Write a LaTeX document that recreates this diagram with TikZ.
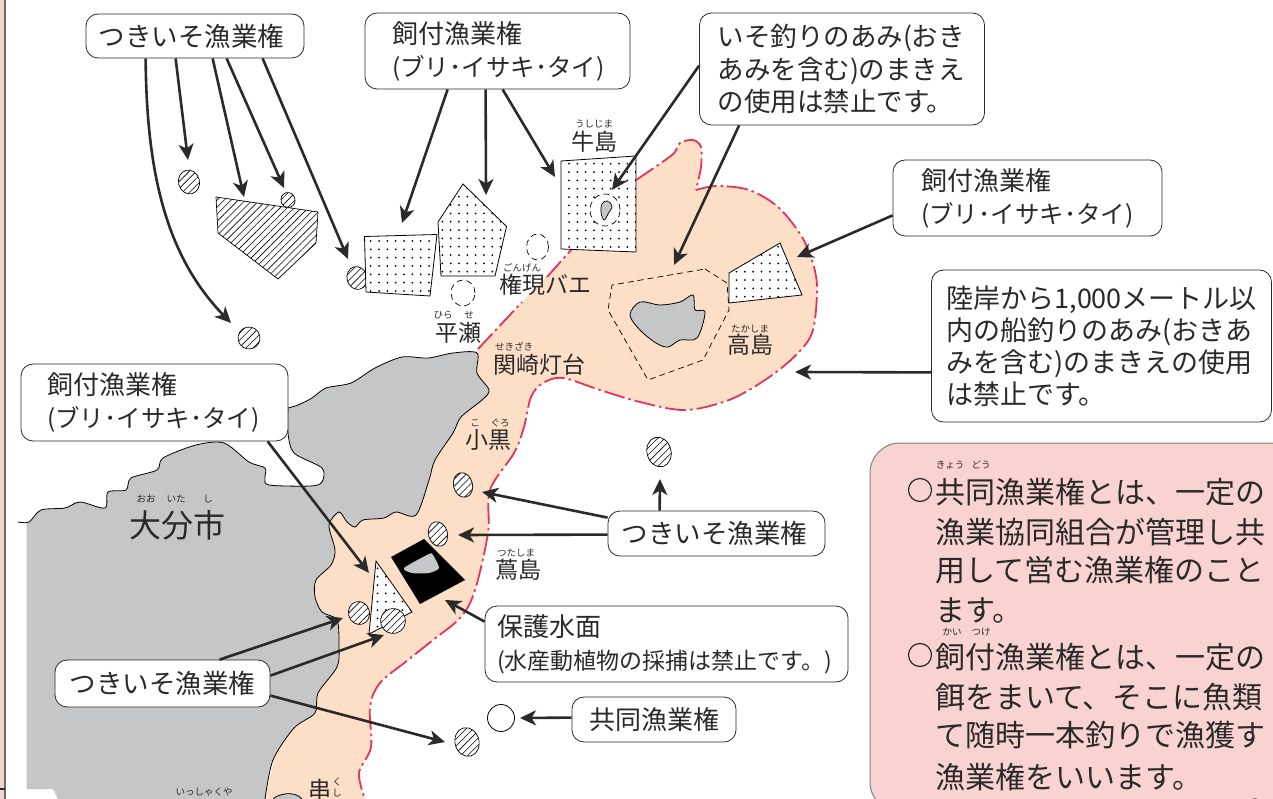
\documentclass[tikz,border=0pt]{standalone}
\usepackage{fontspec}
\setmainfont{Noto Sans CJK JP}
\usetikzlibrary{arrows.meta,calc,patterns.meta,shapes.geometric}
\definecolor{ink}{HTML}{2A2A2A}
\definecolor{seacol}{HTML}{FDDFC8}
\definecolor{landcol}{HTML}{C4C6C8}
\definecolor{redline}{HTML}{E5335A}
\definecolor{pinkbox}{HTML}{F9D3D1}
\definecolor{stripcol}{HTML}{F6D2CF}
\newcommand{\fs}[2]{\fontsize{#1}{#2}\selectfont}
\tikzset{
  conn/.style={draw=ink,line width=2.6pt,-{Stealth[length=16pt,width=15pt,inset=4.5pt]}},
  rbox/.style n args={3}{draw=ink,line width=.8pt,fill=white,rounded corners=12pt,text=ink,
    minimum height=#2pt,text width=#1pt-2*#3pt,inner xsep=#3pt,inner ysep=0pt},
  lab/.style={text=ink,inner sep=0pt,font=\fs{23}{25}},
  rub/.style={text=ink,inner sep=0pt,font=\fs{9.5}{11}},
  pline/.style={text=ink,inner sep=0pt,anchor=west,font=\fs{30}{32}},
  hatchfill/.style={draw=black,line width=.7pt,preaction={fill=white},pattern={Lines[angle=45,distance=5pt,line width=.6pt]}},
  hell/.style={shape=ellipse,inner sep=0pt,hatchfill,rotate=15},
  dashell/.style={shape=ellipse,inner sep=0pt,draw=black,line width=.7pt,dash pattern=on 6pt off 4pt},
}
% white polygon #1 with a grid of dots starting at (#2,#4), up to (#3,#5)
\newcommand{\dotarea}[5]{%
  \fill[white] #1;
  \begin{scope}
    \clip #1;
    \pgfmathsetmacro{\xnext}{#2+8.33}
    \pgfmathsetmacro{\ynext}{#4+8.33}
    \foreach \xx in {#2,\xnext,...,#3}
      \foreach \yy in {#4,\ynext,...,#5}
        \fill[black] (\xx,\yy) circle (1);
  \end{scope}
  \draw[black,line width=.8pt] #1;
}
\def\eastcoast{plot[smooth,tension=.5] coordinates {(288,408) (298,405) (312,398) (326,388) (351,383) (375,368) (402,357) (428,358) (453,353) (477,353) (477,373) (489,390) (482,400) (461,417) (453,433) (435,460) (429,480) (416,515) (396,512) (384,518) (363,520) (355,527) (347,522) (339,512) (329,525) (335,550) (331,565) (316,580) (315,597) (322,612) (337,620) (339,647) (337,667) (318,693) (315,713) (294,728) (273,760) (265,799)}}
\def\northcoast{plot[smooth,tension=.5] coordinates {(18,522) (29,522) (41,510) (65,508) (80,502) (105,508) (108,492) (126,490) (131,478) (157,470) (163,458) (196,445) (224,443) (249,462) (265,468) (265,478) (269,485) (310,486) (322,482) (322,468) (294,453) (288,433) (288,408)}}
\def\redcoastA{plot[smooth,tension=.5] coordinates {(478,349) (522,302)}}
\def\redcoastB{plot[smooth,tension=.5] coordinates {(547,277) (571,250)}}
\def\redcoastC{plot[smooth,tension=.5] coordinates {(636,180) (672,155) (680,143) (693,140) (701,147) (701,167) (696,190)}}
\def\redcoastD{plot[smooth,tension=.55] coordinates {(696,190) (717,186) (749,190) (778,207) (802,237) (814,267) (817,293) (812,333) (794,357) (765,380) (729,400) (685,410) (640,402) (600,390) (563,378) (543,383) (531,397) (524,427) (514,453) (490,490) (488,533) (475,590) (461,617) (433,640) (408,660) (380,683) (370,707) (371,747) (359,773) (365,799)}}
\begin{document}
\begin{tikzpicture}[x=1pt,y=-1pt]
\useasboundingbox (0,0) rectangle (1273,799);
% page strip
\fill[stripcol] (0,0) rectangle (4,799);
\fill[gray!85!black] (4,0) rectangle (5.5,799);
\fill[ink] (0,787.5) rectangle (5,789.5);
% sea area
\edef\seacmd{\noexpand\fill[seacol] (478,349) -- (571,250) -- (636,180) -- \redcoastC -- \redcoastD -- (265,799) -- (300,650) -- (320,560) -- (325,505) -- cycle;}
\seacmd
% land
\edef\landcmd{\noexpand\fill[landcol] (26.5,522) -- \northcoast -- \eastcoast -- (58,799) -- (53,789) -- (26.5,789) -- cycle;}
\landcmd
\draw[black,line width=.8pt] \northcoast;
\draw[black,line width=.8pt] \eastcoast;
\filldraw[fill=landcol,draw=black,line width=.8pt] (273,799) .. controls (278,794) and (294,790) .. (302,799);
% boundary
\tikzset{redb/.style={draw=redline,line width=1.8pt,dash pattern=on 21pt off 4pt on 2.5pt off 4pt}}
\draw[redb] \redcoastA;
\draw[redb] \redcoastB;
\draw[redb] \redcoastC;
\draw[redb] \redcoastD;
% islands and areas
\node[hell,minimum width=21pt,minimum height=24pt] (e1) at (189,182) {};
\node[hell,minimum width=22pt,minimum height=22pt] (e3) at (249,338) {};
\node[hell,minimum width=20pt,minimum height=23pt] (e4) at (357,278) {};
\draw[hatchfill] (216,197) -- (318,212) -- (316,243) -- (278,279) -- (218,233) -- cycle;
\node[hell,minimum width=14pt,minimum height=15pt] (e2) at (288,200) {};
\dotarea{(364.5,236.5) -- (437,234.5) -- (430,296) -- (366,292) -- cycle}{370.7}{436}{241}{296}
\dotarea{(463,184) -- (506.5,226.5) -- (495,276) -- (441,276) -- (438,222) -- cycle}{442.3}{506}{188.4}{276}
\dotarea{(561,161) -- (636,156) -- (636,252) -- (561,249) -- cycle}{569}{636}{163.7}{252}
\node[dashell,fill=white,minimum width=30pt,minimum height=32pt] (d0) at (605,210) {};
\filldraw[fill=landcol,draw=black,line width=.7pt] plot[smooth cycle,tension=.7] coordinates {(607,201) (612,206) (608,214) (604,220) (601,212) (602,204)};
\node[dashell,minimum width=22pt,minimum height=26pt] (d1) at (537.5,247) {};
\node[dashell,minimum width=24pt,minimum height=26pt] (d2) at (463,293) {};
\draw[black,line width=.7pt,dash pattern=on 6pt off 4pt] (705,269) -- (727,283) -- (729,310) -- (703,360) -- (648,380) -- (608,310) -- (612,285) -- cycle;
\dotarea{(780,243) -- (802,295) -- (729,303) -- (729,273) -- cycle}{736.5}{802}{246.7}{303}
\filldraw[fill=landcol,draw=black,line width=.8pt] plot[smooth cycle,tension=.55] coordinates {(630,315) (640,302) (660,305) (680,302) (693,295) (695,310) (705,312) (697,338) (680,340) (668,347) (656,343) (640,330)};
\fill[black] (424,539) -- (465,580) -- (420,604) -- (391,557) -- cycle;
\fill[landcol] plot[smooth cycle,tension=.4] coordinates {(404,568) (429,554) (433,555) (439,568) (429,573) (412,573)};
\dotarea{(376,561) -- (412,612) -- (369,634) -- cycle}{377.5}{412}{568.4}{634}
\node[hell,minimum width=21pt,minimum height=23pt] (e5) at (359,613) {};
\node[hell,minimum width=25pt,minimum height=25pt] (e6) at (393,621) {};
\node[hell,minimum width=19pt,minimum height=25pt] (e7) at (463,485) {};
\node[hell,minimum width=19pt,minimum height=25pt] (e8) at (438,534) {};
\node[hell,minimum width=24pt,minimum height=29pt] (e9) at (467,742) {};
\node[hell,minimum width=24pt,minimum height=30pt] (e10) at (659,452) {};
\node[shape=ellipse,draw=black,line width=.8pt,fill=white,inner sep=0pt,minimum width=27pt,minimum height=27pt] (e11) at (501,718) {};
% labels
\node[lab] (n1) at (594,142) {牛島};
\node[rub] (n1r) at (594,124) {うしじま};
\node[lab] (n2) at (545,285) {権現バエ};
\node[rub] (n2r) at (522,268) {ごんげん};
\node[lab] (n3) at (458,333) {平瀬};
\node[rub] (n3a) at (443,315) {ひら};
\node[rub] (n3b) at (469,315) {せ};
\node[lab] (n4) at (539,365) {関崎灯台};
\node[rub] (n4r) at (514,347) {せきざき};
\node[lab] (n5) at (750,345) {高島};
\node[rub] (n5r) at (750,329) {たかしま};
\node[lab] (n6) at (488,440) {小黒};
\node[rub] (n6a) at (475,423) {こ};
\node[rub] (n6b) at (500,423) {ぐろ};
\node[lab] (n7) at (518,570) {蔦島};
\node[rub] (n7r) at (516,553) {つたしま};
\node[lab,font=\fs{32}{34}] (n8) at (177,525) {大分市};
\node[rub] (n8a) at (146,499) {おお};
\node[rub] (n8b) at (176,499) {いた};
\node[rub] (n8c) at (208,499) {し};
\node[lab] (n9) at (320,790) {串};
\node[rub] (n9a) at (337,782) {く};
\node[rub] (n9b) at (337,793.5) {し};
\node[rub] (n10) at (204,792) {いっしゃくや};
% boxes
\node[rbox={218}{44}{0},align=center,font=\fs{26.5}{28}] (t1) at (195,36) {\hspace*{-7pt}つきいそ漁業権};
\node[rbox={265}{76}{27},align=left,font=\fs{26}{33}] (k1) at (497.5,51) {飼付漁業権\\{\fs{24.5}{33}(ブリ･イサキ･タイ)}};
\node[rbox={285}{112}{18},align=left,font=\fs{26.5}{32.5}] (iso) at (842,69) {いそ釣りのあみ(おき\\あみを含む)のまきえ\\の使用は禁止です。};
\node[rbox={269}{76}{28},align=left,font=\fs{26}{33}] (k2) at (1027.5,198) {飼付漁業権\\{\fs{24.5}{33}(ブリ･イサキ･タイ)}};
\node[rbox={340}{152}{15},align=left,font=\fs{27}{32}] (riku) at (1101.5,346) {陸岸から1,000メートル以\\内の船釣りのあみ(おきあ\\みを含む)のまきえの使用\\は禁止です。};
\node[rbox={267}{77}{26},align=left,font=\fs{26}{33}] (k3) at (154.5,402.5) {飼付漁業権\\{\fs{24.5}{33}(ブリ･イサキ･タイ)}};
\node[rbox={217}{45}{0},align=center,font=\fs{26.5}{28}] (t2) at (716.5,533.5) {\hspace*{-4pt}つきいそ漁業権};
\node[rbox={363}{76}{12},align=left,font=\fs{26}{33}] (hogo) at (666.5,644) {保護水面\\{\fs{23}{33}(水産動植物の採捕は禁止です。)}};
\node[rbox={164}{45}{0},align=center,font=\fs{26}{28}] (kyo) at (654,719.5) {共同漁業権};
\node[rbox={215}{47}{0},align=center,font=\fs{26.5}{28}] (t3) at (162.5,683.5) {つきいそ漁業権};
% free ends
\coordinate (a1) at (231,323);
\coordinate (a2) at (188,160);
\coordinate (a3) at (244,197);
\coordinate (a4) at (284,188);
\coordinate (a5) at (348,259);
\coordinate (b1) at (402,223);
\coordinate (b2) at (486,195);
\coordinate (b3) at (555,177);
\coordinate (c1) at (612,190);
\coordinate (c2) at (674,265);
\coordinate (c3) at (797,257);
\coordinate (c4) at (795,372);
\coordinate (c5) at (369,573);
\coordinate (f1) at (482,492);
\coordinate (f2) at (458,535);
\coordinate (f3) at (660,479);
\coordinate (f4) at (445,600);
\coordinate (f5) at (520,718);
\coordinate (f6) at (343,618);
\coordinate (f7) at (384,635);
\coordinate (f8) at (445,742);
% connectors
\draw[conn] ($(t1.south west)+(60,0)$) .. controls +(1,112) and (165,255) .. (a1);
\draw[conn] ($(t1.south west)+(90,0)$) -- (a2);
\draw[conn] ($(t1.south west)+(127,0)$) -- (a3);
\draw[conn] ($(t1.south west)+(141,0)$) -- (a4);
\draw[conn] ($(t1.south west)+(177,0)$) -- (a5);
\draw[conn] ($(k1.south west)+(83,0)$) -- (b1);
\draw[conn] ($(k1.south west)+(121,0)$) -- (b2);
\draw[conn] ($(k1.south west)+(138,0)$) -- (b3);
\draw[conn] ($(iso.north west)+(0,53)$) -- (c1);
\draw[conn] ($(iso.south west)+(40,0)$) -- (c2);
\draw[conn] ($(k2.south west)+(0,-21)$) -- (c3);
\draw[conn] ($(riku.south west)+(0,-50)$) -- (c4);
\draw[conn] ($(k3.south west)+(247,0)$) -- (c5);
\draw[conn] ($(t2.north west)+(0,7)$) -- (f1);
\draw[conn] ($(t2.north west)+(0,24)$) -- (f2);
\draw[conn] ($(t2.north west)+(52,0)$) -- (f3);
\draw[conn] ($(hogo.north west)+(0,16)$) -- (f4);
\draw[conn] ($(kyo.north west)+(0,21)$) -- (f5);
\draw[conn] ($(t3.north west)+(165,0)$) -- (f6);
\draw[conn] ($(t3.north east)+(0,16)$) -- (f7);
\draw[conn] ($(t3.north east)+(0,36)$) -- (f8);
% explanation panel
\begin{scope}
\clip (0,0) rectangle (1273,799);
\draw[draw=gray,line width=1pt,fill=pinkbox,rounded corners=30pt] (1320,812) -- (870,812) -- (870,443) -- (1320,443) -- cycle;
\draw[ink,line width=1.2pt] (1255,812) circle (13);
\end{scope}
\draw[ink,line width=1.2pt] (920,490) circle (11.5);
\draw[ink,line width=1.2pt] (920,655) circle (11.5);
\node[pline] (p1) at (935,492) {共同漁業権とは、一定の};
\node[pline] (p2) at (935,532) {漁業協同組合が管理し共};
\node[pline] (p3) at (935,570) {用して営む漁業権のこと};
\node[pline] (p4) at (935,610) {ます。};
\node[pline] (p5) at (935,657) {飼付漁業権とは、一定の};
\node[pline] (p6) at (935,697) {餌をまいて、そこに魚類};
\node[pline] (p7) at (935,735) {て随時一本釣りで漁獲す};
\node[pline] (p8) at (935,777) {漁業権をいいます。};
\node[rub] (p1a) at (950,465) {きょう};
\node[rub] (p1b) at (981,465) {どう};
\node[rub] (p5a) at (952,632) {かい};
\node[rub] (p5b) at (981,632) {つけ};
\end{tikzpicture}
\end{document}
